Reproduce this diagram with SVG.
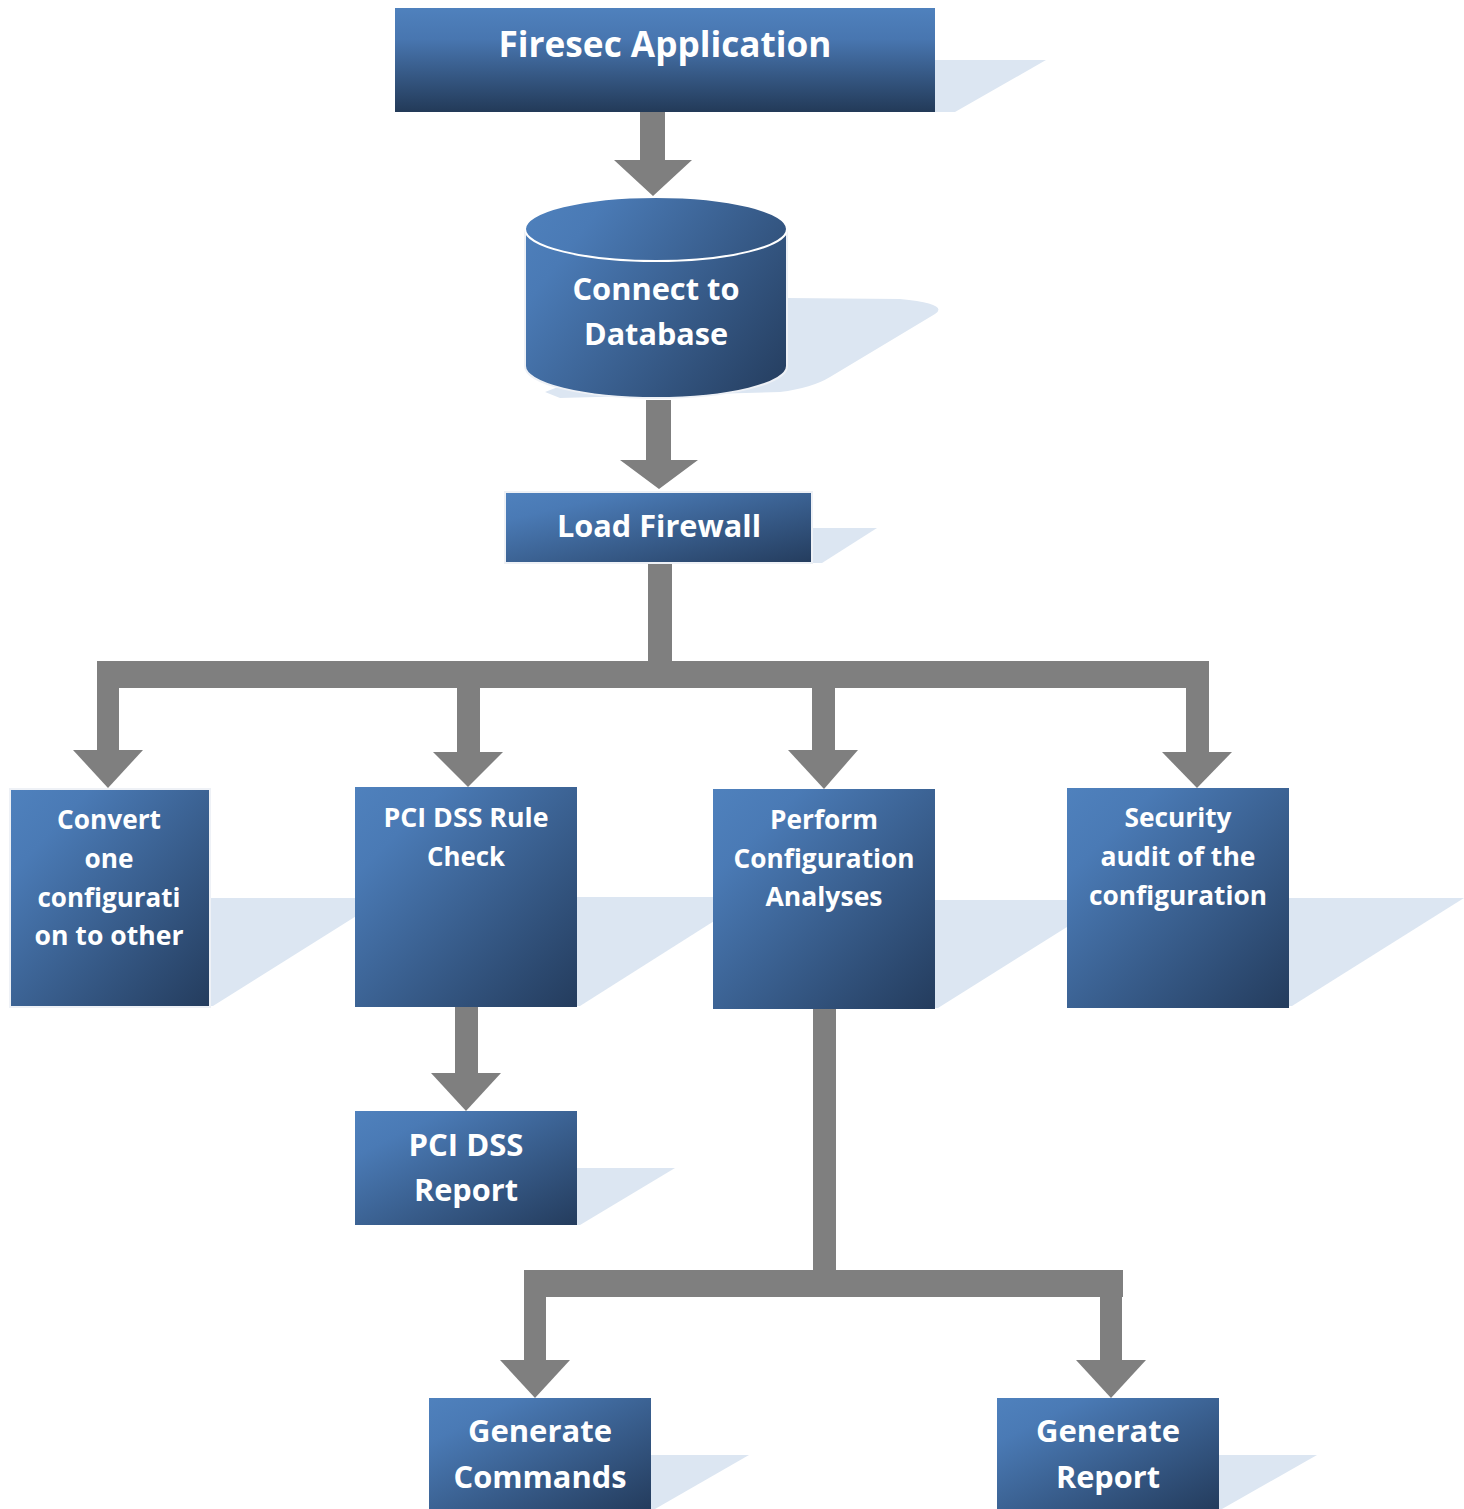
<svg xmlns="http://www.w3.org/2000/svg" width="1464" height="1509" viewBox="0 0 1464 1509">
<defs>
<linearGradient id="gDiag" x1="0" y1="0" x2="1" y2="1">
<stop offset="0" stop-color="#4f81bd"/>
<stop offset="0.2" stop-color="#4a7ab5"/>
<stop offset="1" stop-color="#243c5d"/>
</linearGradient>
<linearGradient id="gVert" x1="0" y1="0" x2="0" y2="1">
<stop offset="0" stop-color="#4f81bd"/>
<stop offset="0.3" stop-color="#4876b0"/>
<stop offset="1" stop-color="#233a58"/>
</linearGradient>
<linearGradient id="gCyl" gradientUnits="userSpaceOnUse" x1="525" y1="197" x2="787" y2="398">
<stop offset="0" stop-color="#4f81bd"/>
<stop offset="0.2" stop-color="#4a7ab5"/>
<stop offset="1" stop-color="#243c5d"/>
</linearGradient>
<style>
.box{fill:url(#gDiag);}
.edge{stroke:#eef1f6;stroke-width:2;}
.shd{fill:#dce6f2;}
.arr{fill:#7f7f7f;}
.t{font-family:"Open Sans","Liberation Sans",sans-serif;font-weight:700;fill:#ffffff;text-anchor:middle;}
.s28{font-size:27px;}
.s32{font-size:31px;}
.s36{font-size:35px;}
</style>
</defs>

<g id="connectors">
<polygon class="arr" points="640,112 665,112 665,160 692,160 653,196 614,160 640,160"/>
<polygon class="arr" points="646,400 671,400 671,460 698,460 659,489 620,460 646,460"/>
<rect class="arr" x="648" y="563" width="24" height="100"/>
<rect class="arr" x="97" y="661" width="1112" height="27"/>
<rect class="arr" x="97" y="661" width="22" height="90"/>
<polygon class="arr" points="73,750 143,750 108,788"/>
<rect class="arr" x="457" y="680" width="23" height="73"/>
<polygon class="arr" points="433,752 503,752 468,787"/>
<rect class="arr" x="812" y="680" width="23" height="71"/>
<polygon class="arr" points="788,750 858,750 824,789"/>
<rect class="arr" x="1186" y="661" width="23" height="92"/>
<polygon class="arr" points="1162,752 1232,752 1197,788"/>
<rect class="arr" x="455" y="1000" width="23" height="74"/>
<polygon class="arr" points="431,1073 501,1073 466,1111"/>
<rect class="arr" x="813" y="1005" width="23" height="270"/>
<rect class="arr" x="524" y="1270" width="599" height="27"/>
<rect class="arr" x="524" y="1290" width="22" height="71"/>
<polygon class="arr" points="500,1360 570,1360 535,1398"/>
<rect class="arr" x="1100" y="1290" width="22" height="71"/>
<polygon class="arr" points="1076,1360 1146,1360 1111,1398"/>
</g>

<g id="n-firesec">
<polygon class="shd" points="935,60 1046,60 955,112 935,112"/>
<rect x="395" y="8" width="540" height="104" fill="url(#gVert)"/>
<text class="t s36" x="665" y="57" textLength="333" lengthAdjust="spacingAndGlyphs">Firesec Application</text>
</g>

<g id="n-database">
<path class="shd" d="M787,298 L900,299 Q950,304 935,314 L830,377 Q812,388 780,392 L560,398 L545,392 Z"/>
<path d="M525,229 L525,366 A131,32 0 0 0 787,366 L787,229 Z" fill="url(#gCyl)" stroke="#eef1f6" stroke-width="2"/>
<ellipse cx="656" cy="229" rx="131" ry="32" fill="url(#gCyl)" stroke="#ffffff" stroke-width="2"/>
<text class="t s32" x="656" y="300" textLength="167" lengthAdjust="spacingAndGlyphs">Connect to</text>
<text class="t s32" x="656" y="345" textLength="144" lengthAdjust="spacingAndGlyphs">Database</text>
</g>

<g id="n-load">
<polygon class="shd" points="812,528 877,528 822,563 812,563"/>
<rect class="box edge" x="505" y="492" width="307" height="71"/>
<text class="t s32" x="659" y="537" textLength="204" lengthAdjust="spacingAndGlyphs">Load Firewall</text>
</g>

<g id="n-convert">
<polygon class="shd" points="210,898 385,898 213,1006 210,1006"/>
<rect class="box edge" x="10" y="789" width="200" height="218"/>
<text class="t s28" x="109" y="829" textLength="104" lengthAdjust="spacingAndGlyphs">Convert</text>
<text class="t s28" x="109" y="868" textLength="49" lengthAdjust="spacingAndGlyphs">one</text>
<text class="t s28" x="109" y="907" textLength="143" lengthAdjust="spacingAndGlyphs">configurati</text>
<text class="t s28" x="109" y="945" textLength="149" lengthAdjust="spacingAndGlyphs">on to other</text>
</g>

<g id="n-pcirule">
<polygon class="shd" points="577,897 752,897 580,1006 577,1006"/>
<rect class="box" x="355" y="787" width="222" height="220"/>
<text class="t s28" x="466" y="827" textLength="165" lengthAdjust="spacingAndGlyphs">PCI DSS Rule</text>
<text class="t s28" x="466" y="866" textLength="78" lengthAdjust="spacingAndGlyphs">Check</text>
</g>

<g id="n-perform">
<polygon class="shd" points="935,900 1110,900 938,1008 935,1008"/>
<rect class="box" x="713" y="789" width="222" height="220"/>
<text class="t s28" x="824" y="829" textLength="108" lengthAdjust="spacingAndGlyphs">Perform</text>
<text class="t s28" x="824" y="868" textLength="181" lengthAdjust="spacingAndGlyphs">Configuration</text>
<text class="t s28" x="824" y="906" textLength="117" lengthAdjust="spacingAndGlyphs">Analyses</text>
</g>

<g id="n-security">
<polygon class="shd" points="1289,898 1464,898 1292,1006 1289,1006"/>
<rect class="box" x="1067" y="788" width="222" height="220"/>
<text class="t s28" x="1178" y="827" textLength="107" lengthAdjust="spacingAndGlyphs">Security</text>
<text class="t s28" x="1178" y="866" textLength="155" lengthAdjust="spacingAndGlyphs">audit of the</text>
<text class="t s28" x="1178" y="905" textLength="178" lengthAdjust="spacingAndGlyphs">configuration</text>
</g>

<g id="n-pcireport">
<polygon class="shd" points="577,1168 675,1168 580,1225 577,1225"/>
<rect class="box" x="355" y="1111" width="222" height="114"/>
<text class="t s32" x="466" y="1156" textLength="115" lengthAdjust="spacingAndGlyphs">PCI DSS</text>
<text class="t s32" x="466" y="1201" textLength="104" lengthAdjust="spacingAndGlyphs">Report</text>
</g>

<g id="n-gencmd">
<polygon class="shd" points="651,1455 749,1455 655,1509 651,1509"/>
<rect class="box" x="429" y="1398" width="222" height="111"/>
<text class="t s32" x="540" y="1442" textLength="144" lengthAdjust="spacingAndGlyphs">Generate</text>
<text class="t s32" x="540" y="1488" textLength="173" lengthAdjust="spacingAndGlyphs">Commands</text>
</g>

<g id="n-genreport">
<polygon class="shd" points="1219,1455 1317,1455 1222,1509 1219,1509"/>
<rect class="box" x="997" y="1398" width="222" height="111"/>
<text class="t s32" x="1108" y="1442" textLength="144" lengthAdjust="spacingAndGlyphs">Generate</text>
<text class="t s32" x="1108" y="1488" textLength="104" lengthAdjust="spacingAndGlyphs">Report</text>
</g>
</svg>
